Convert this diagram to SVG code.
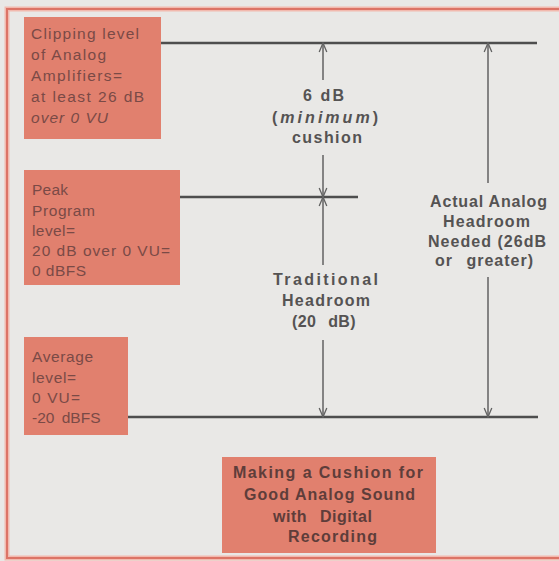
<svg xmlns="http://www.w3.org/2000/svg" width="559" height="561" viewBox="0 0 559 561">
<defs>
<style>
.box{fill:#e1806e;}
.bt{font-family:"Liberation Sans",Arial,sans-serif;font-size:15.5px;fill:#7a4a46;}
.bb{font-family:"Liberation Sans",Arial,sans-serif;font-size:16px;font-weight:bold;fill:#5e3d3a;}
.lbl{font-family:"Liberation Sans",Arial,sans-serif;font-size:16px;font-weight:bold;fill:#555353;}
.lvl{stroke:#4e4e4e;stroke-width:2.6;fill:none;}
.shaft{stroke:#626262;stroke-width:1.5;fill:none;}
</style>
<marker id="ah" viewBox="-1 -5 11 10" markerWidth="11" markerHeight="10" refX="9" refY="0" orient="auto-start-reverse" markerUnits="userSpaceOnUse">
<path d="M0,-3.8 L9,0 L0,3.8" fill="none" stroke="#626262" stroke-width="1.3"/>
</marker>
</defs>
<rect x="0" y="0" width="559" height="561" fill="#e9e8e6"/>
<rect x="7" y="9" width="560" height="549" fill="none" stroke="#f2b9ae" stroke-width="5"/>
<rect x="7" y="9" width="560" height="549" fill="none" stroke="#dc7466" stroke-width="2"/>

<g id="connectors">
<line class="lvl" x1="161" y1="43" x2="537" y2="43"/>
<line class="lvl" x1="180" y1="197" x2="358" y2="197"/>
<line class="lvl" x1="128" y1="417" x2="538" y2="417"/>
<line class="shaft" x1="323" y1="43" x2="323" y2="80" marker-start="url(#ah)"/>
<line class="shaft" x1="323" y1="155" x2="323" y2="197" marker-end="url(#ah)"/>
<line class="shaft" x1="323" y1="197" x2="323" y2="265" marker-start="url(#ah)"/>
<line class="shaft" x1="323" y1="340" x2="323" y2="417" marker-end="url(#ah)"/>
<line class="shaft" x1="488" y1="43" x2="488" y2="183" marker-start="url(#ah)"/>
<line class="shaft" x1="488" y1="277" x2="488" y2="417" marker-end="url(#ah)"/>
</g>

<g id="clipping">
<rect class="box" x="24" y="17" width="137" height="122"/>
<text class="bt" x="31" y="39" textLength="108" lengthAdjust="spacing">Clipping level</text>
<text class="bt" x="31" y="60" textLength="75" lengthAdjust="spacing">of Analog</text>
<text class="bt" x="31" y="81" textLength="91" lengthAdjust="spacing">Amplifiers=</text>
<text class="bt" x="31" y="102" textLength="113" lengthAdjust="spacing">at least 26 dB</text>
<text class="bt" x="31" y="123" textLength="77" lengthAdjust="spacing" font-style="italic">over 0 VU</text>
</g>

<g id="peak">
<rect class="box" x="24" y="170" width="156" height="115"/>
<text class="bt" x="32" y="195" textLength="36" lengthAdjust="spacing">Peak</text>
<text class="bt" x="32" y="216" textLength="63" lengthAdjust="spacing">Program</text>
<text class="bt" x="32" y="236" textLength="43" lengthAdjust="spacing">level=</text>
<text class="bt" x="32" y="256" textLength="138" lengthAdjust="spacing">20 dB over 0 VU=</text>
<text class="bt" x="32" y="276" textLength="54" lengthAdjust="spacing">0 dBFS</text>
</g>

<g id="average">
<rect class="box" x="24" y="337" width="104" height="98"/>
<text class="bt" x="32" y="362" textLength="61" lengthAdjust="spacing">Average</text>
<text class="bt" x="32" y="383" textLength="44" lengthAdjust="spacing">level=</text>
<text class="bt" x="32" y="403" textLength="48" lengthAdjust="spacing">0 VU=</text>
<text class="bt" x="32" y="423" word-spacing="3">-20 dBFS</text>
</g>

<g id="title">
<rect class="box" x="222" y="457" width="214" height="96"/>
<text class="bb" x="233" y="478" textLength="190" lengthAdjust="spacing">Making a Cushion for</text>
<text class="bb" x="244" y="500" textLength="171" lengthAdjust="spacing">Good Analog Sound</text>
<text class="bb" x="273" y="522" word-spacing="8" letter-spacing="0.5">with Digital</text>
<text class="bb" x="288" y="542" textLength="89" lengthAdjust="spacing">Recording</text>
</g>

<g id="cushion">
<text class="lbl" x="303" y="101" textLength="41" lengthAdjust="spacing">6 dB</text>
<text class="lbl" x="272" y="123" textLength="106" lengthAdjust="spacing">(<tspan font-style="italic">minimum</tspan>)</text>
<text class="lbl" x="292" y="143" textLength="70" lengthAdjust="spacing">cushion</text>
</g>

<g id="traditional">
<text class="lbl" x="273" y="285" textLength="105" lengthAdjust="spacing">Traditional</text>
<text class="lbl" x="282" y="306" textLength="88" lengthAdjust="spacing">Headroom</text>
<text class="lbl" x="292" y="327" word-spacing="7" letter-spacing="0.4">(20 dB)</text>
</g>

<g id="actual">
<text class="lbl" x="430" y="207" textLength="117" lengthAdjust="spacing">Actual Analog</text>
<text class="lbl" x="443" y="227" textLength="87" lengthAdjust="spacing">Headroom</text>
<text class="lbl" x="428" y="247" textLength="118" lengthAdjust="spacing">Needed (26dB</text>
<text class="lbl" x="435" y="266" word-spacing="8" letter-spacing="1">or greater)</text>
</g>
</svg>
